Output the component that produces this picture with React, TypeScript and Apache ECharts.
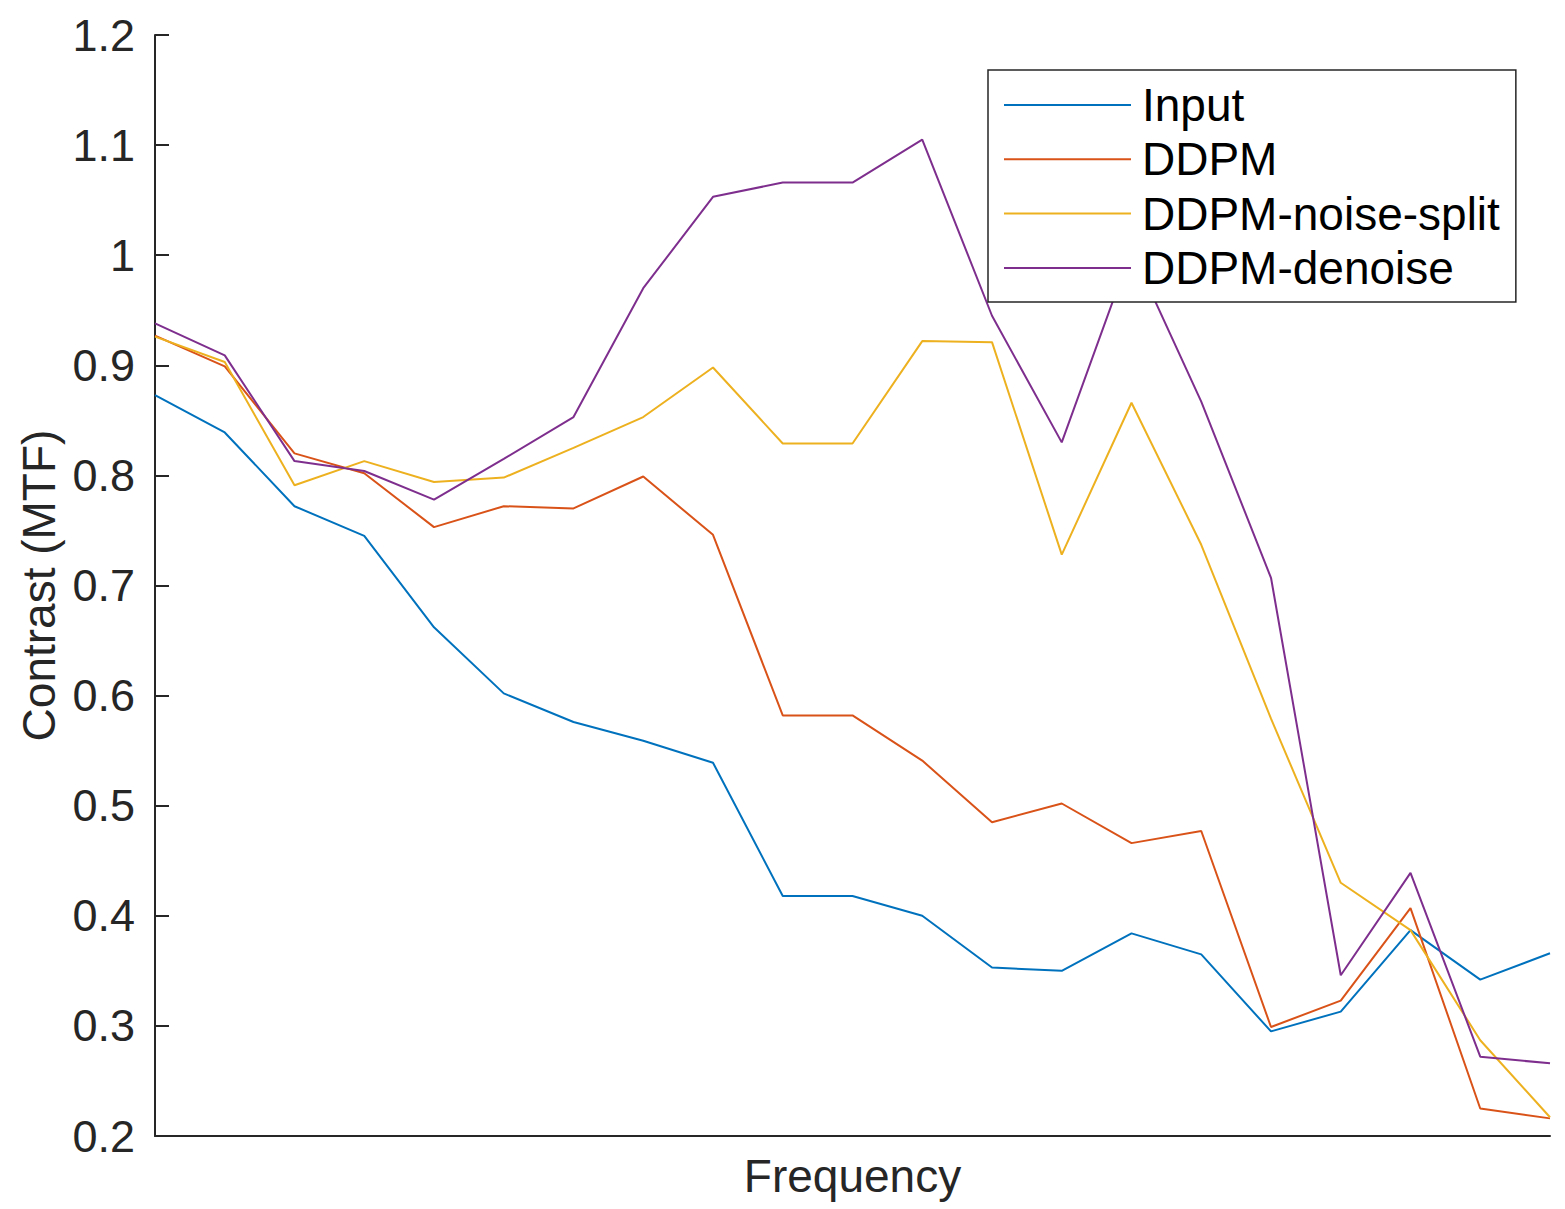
import React, { useEffect, useRef } from "react";
import * as echarts from "echarts";

const frequencyIndex = [1, 2, 3, 4, 5, 6, 7, 8, 9, 10, 11, 12, 13, 14, 15, 16, 17, 18, 19, 20, 21];
const yTicks = [0.2, 0.3, 0.4, 0.5, 0.6, 0.7, 0.8, 0.9, 1.0, 1.1, 1.2];
const seriesNames = ["Input", "DDPM", "DDPM-noise-split", "DDPM-denoise"];
const inputValues = [0.873, 0.839, 0.772, 0.745, 0.662, 0.602, 0.576, 0.559, 0.539, 0.418, 0.418, 0.400, 0.353, 0.350, 0.384, 0.365, 0.295, 0.313, 0.387, 0.342, 0.366];
const ddpmValues = [0.927, 0.899, 0.820, 0.802, 0.753, 0.772, 0.770, 0.799, 0.746, 0.582, 0.582, 0.541, 0.485, 0.502, 0.466, 0.477, 0.299, 0.323, 0.407, 0.225, 0.216];
const noiseSplitValues = [0.926, 0.903, 0.791, 0.813, 0.794, 0.798, 0.825, 0.853, 0.898, 0.829, 0.829, 0.922, 0.921, 0.728, 0.866, 0.737, 0.579, 0.430, 0.387, 0.287, 0.217];
const denoiseValues = [0.938, 0.909, 0.813, 0.804, 0.778, 0.815, 0.853, 0.970, 1.053, 1.066, 1.066, 1.105, 0.945, 0.830, 1.005, 0.867, 0.707, 0.346, 0.439, 0.272, 0.266];
const colors = ["#0072BD", "#D95319", "#EDB120", "#7E2F8E"];

const FONT = "'Liberation Sans', Arial, Helvetica, sans-serif";
const AXIS = "#262626";

export default function App() {
  const ref = useRef<HTMLDivElement>(null);
  useEffect(() => {
    if (!ref.current) return;
    const chart = echarts.init(ref.current, undefined, { renderer: "svg" });
    const all = [inputValues, ddpmValues, noiseSplitValues, denoiseValues];
    chart.setOption({
      animation: false,
      backgroundColor: "#ffffff",
      grid: { left: 155, right: 15, top: 35, bottom: 73, containLabel: false },
      legend: {
        orient: "vertical",
        left: 988,
        top: 70,
        data: seriesNames,
        backgroundColor: "#ffffff",
        borderColor: AXIS,
        borderWidth: 1.5,
        padding: [12, 16, 11, 15],
        itemGap: 8.3,
        itemWidth: 127,
        itemHeight: 14,
        itemStyle: { opacity: 0 },
        textStyle: { fontSize: 46, fontFamily: FONT, color: "#000000", lineHeight: 46, padding: [0, 0, 0, 6] },
        selectedMode: false,
      },
      xAxis: {
        type: "value",
        min: 1,
        max: 21,
        name: "Frequency",
        nameLocation: "middle",
        nameGap: 17,
        nameTextStyle: { fontSize: 46, fontFamily: FONT, color: AXIS, verticalAlign: "top" },
        axisLine: { show: true, lineStyle: { color: AXIS, width: 2 } },
        axisTick: { show: false },
        axisLabel: { show: false },
        splitLine: { show: false },
      },
      yAxis: {
        type: "value",
        min: yTicks[0],
        max: yTicks[yTicks.length - 1],
        interval: 0.1,
        name: "Contrast (MTF)",
        nameLocation: "middle",
        nameGap: 92,
        nameTextStyle: { fontSize: 46, fontFamily: FONT, color: AXIS },
        axisLine: { show: true, lineStyle: { color: AXIS, width: 2 } },
        axisTick: { show: true, inside: true, length: 14, lineStyle: { color: AXIS, width: 2 } },
        axisLabel: {
          fontSize: 45,
          fontFamily: FONT,
          color: AXIS,
          margin: 20,
          formatter: (v: number) => String(+v.toFixed(1)),
        },
        splitLine: { show: false },
      },
      series: seriesNames.map((name, i) => ({
        name,
        type: "line",
        data: frequencyIndex.map((x, j) => [x, all[i][j]]),
        symbol: "none",
        showSymbol: false,
        lineStyle: { color: colors[i], width: 2 },
        itemStyle: { color: colors[i] },
        z: 2,
      })),
    });
    return () => chart.dispose();
  }, []);
  return (
    <div
      ref={ref}
      style={{ position: "fixed", left: 0, top: 0, width: 1565, height: 1209, background: "#fff" }}
    />
  );
}
